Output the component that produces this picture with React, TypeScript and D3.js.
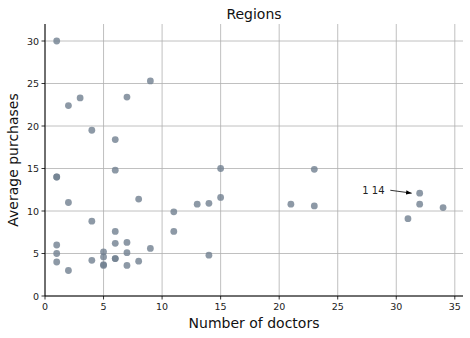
import React from "react";
import * as d3 from "d3";

const doctors = [1, 9, 2, 3, 7, 4, 6, 1, 1, 2, 6, 8, 15, 15, 14, 13, 11, 4, 11, 6, 1, 6, 7, 9, 1, 5, 7, 5, 6, 6, 14, 1, 4, 8, 5, 5, 7, 2, 23, 21, 23, 32, 32, 31, 34];
const purchases = [30.0, 25.3, 22.4, 23.3, 23.4, 19.5, 18.4, 14.0, 14.0, 11.0, 14.8, 11.4, 15.0, 11.6, 10.9, 10.8, 9.9, 8.8, 7.6, 7.6, 6.0, 6.2, 6.3, 5.6, 5.0, 5.2, 5.1, 4.6, 4.4, 4.4, 4.8, 4.0, 4.2, 4.1, 3.7, 3.6, 3.6, 3.0, 14.9, 10.8, 10.6, 12.1, 10.8, 9.1, 10.4];
const xTicks = [0, 5, 10, 15, 20, 25, 30, 35];
const yTicks = [0, 5, 10, 15, 20, 25, 30];
const annotationText = "1 14";
const annotationPoint = [32, 12.1];
const annotationTextPos = [27.1, 12.5];

const W = 470, H = 338;
const m = { left: 45, right: 463, top: 24, bottom: 296 };

export default function App() {
  const x = d3.scaleLinear().domain([0, 35.7]).range([m.left, m.right]);
  const y = d3.scaleLinear().domain([0, 32]).range([m.bottom, m.top]);
  const font = "DejaVu Sans, sans-serif";
  const pts = doctors.map((d, i) => ({ x: d, y: purchases[i] }));
  const ax = x(annotationPoint[0]) - 8;
  const ay = y(annotationPoint[1]);
  const tx = x(annotationTextPos[0]);
  const ty = y(annotationTextPos[1]);
  return (
    <svg width={W} height={H} style={{ position: "absolute", left: 0, top: 0, background: "#fff" }} fontFamily={font}>
      <defs>
        <marker id="arr" viewBox="0 0 10 10" refX="10" refY="5" markerWidth="7" markerHeight="7" orient="auto">
          <path d="M0,1 L10,5 L0,9 Z" fill="#000" />
        </marker>
      </defs>
      {xTicks.map((t) => (
        <line key={"gx" + t} x1={x(t)} x2={x(t)} y1={m.top} y2={m.bottom} stroke="#b0b0b0" strokeWidth={0.8} />
      ))}
      {yTicks.map((t) => (
        <line key={"gy" + t} x1={m.left} x2={m.right} y1={y(t)} y2={y(t)} stroke="#b0b0b0" strokeWidth={0.8} />
      ))}
      {pts.map((p, i) => (
        <circle key={i} cx={x(p.x)} cy={y(p.y)} r={3.4} fill="slategray" fillOpacity={0.8} />
      ))}
      <line x1={m.left} x2={m.left} y1={m.top} y2={m.bottom} stroke="#000" strokeWidth={1} />
      <line x1={m.left} x2={m.right} y1={m.bottom} y2={m.bottom} stroke="#000" strokeWidth={1} />
      {xTicks.map((t) => (
        <g key={"tx" + t}>
          <line x1={x(t)} x2={x(t)} y1={m.bottom} y2={m.bottom + 3.5} stroke="#000" strokeWidth={0.8} />
          <text x={x(t)} y={m.bottom + 14} fontSize={9.5} textAnchor="middle" fill="#222">{t}</text>
        </g>
      ))}
      {yTicks.map((t) => (
        <g key={"ty" + t}>
          <line x1={m.left - 3.5} x2={m.left} y1={y(t)} y2={y(t)} stroke="#000" strokeWidth={0.8} />
          <text x={m.left - 6} y={y(t) + 3.5} fontSize={9.5} textAnchor="end" fill="#222">{t}</text>
        </g>
      ))}
      <text x={tx} y={ty + 4} fontSize={10} fill="#222">{annotationText}</text>
      <line x1={tx + 28} y1={ty + 0.5} x2={ax} y2={ay} stroke="#000" strokeWidth={0.8} markerEnd="url(#arr)" />
      <text x={(m.left + m.right) / 2} y={19} fontSize={14} textAnchor="middle" fill="#111">Regions</text>
      <text x={(m.left + m.right) / 2} y={328} fontSize={14} textAnchor="middle" fill="#111">Number of doctors</text>
      <text transform={`translate(18,${(m.top + m.bottom) / 2}) rotate(-90)`} fontSize={14} textAnchor="middle" fill="#111">Average purchases</text>
    </svg>
  );
}
